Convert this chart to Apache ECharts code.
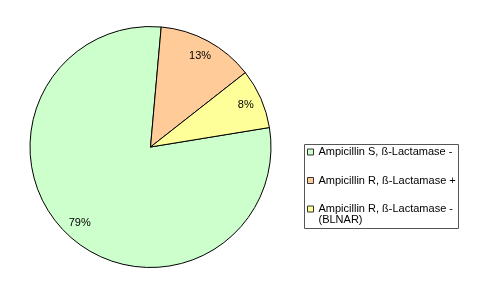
<!DOCTYPE html>
<html><head><meta charset="utf-8">
<script src="https://cdn.jsdelivr.net/npm/echarts@6/dist/echarts.min.js"></script>
<style>html,body{margin:0;padding:0;background:#fff}#c{width:500px;height:297px}</style>
</head><body><div id="c"></div>
<script>
const categories = ['Ampicillin S, ß-Lactamase -', 'Ampicillin R, ß-Lactamase +', 'Ampicillin R, ß-Lactamase -\n(BLNAR)'];
const percentages = [79, 13, 8];

const font = '"Liberation Sans", Arial, sans-serif';
const pieData = categories.map((n, i) => ({ name: n, value: percentages[i] }));
const chart = echarts.init(document.getElementById('c'), null, { renderer: 'canvas' });
chart.setOption({
  animation: false,
  backgroundColor: '#fff',
  color: ['#CCFFCC', '#FFCC99', '#FFFF99'],
  graphic: [{
    type: 'rect', z: 0, silent: true,
    shape: { x: 304.5, y: 144.5, width: 154, height: 84 },
    style: { fill: '#fff', stroke: '#555', lineWidth: 1 }
  }],
  legend: {
    orient: 'vertical', left: 307, top: 135.5, padding: 0,
    itemWidth: 6, itemHeight: 6, itemGap: -4.5, icon: 'rect',
    selectedMode: false, align: 'left', z: 5,
    itemStyle: { borderColor: '#333', borderWidth: 1 },
    textStyle: { fontFamily: font, fontSize: 11, color: '#000', lineHeight: 11 },
    formatter: function (name) {
      const lines = name.split('\n');
      return ' \n' + lines[0] + '\n' + (lines[1] || ' ');
    },
    data: categories
  },
  series: [{
    type: 'pie', center: [150.5, 147], radius: 120.5, startAngle: 9.3, clockwise: true,
    silent: true, label: { show: false }, labelLine: { show: false },
    itemStyle: { borderColor: '#000', borderWidth: 1 },
    emphasis: { disabled: true },
    data: pieData
  }, {
    type: 'pie', center: [150.5, 147], radius: [82, 120], startAngle: 9.3, clockwise: true,
    silent: true, z: 3,
    itemStyle: { color: 'transparent', borderWidth: 0 },
    label: { show: true, position: 'inside', formatter: '{c}%', fontFamily: font, fontSize: 11, color: '#000' },
    labelLine: { show: false },
    emphasis: { disabled: true },
    data: pieData
  }]
});
</script></body></html>
